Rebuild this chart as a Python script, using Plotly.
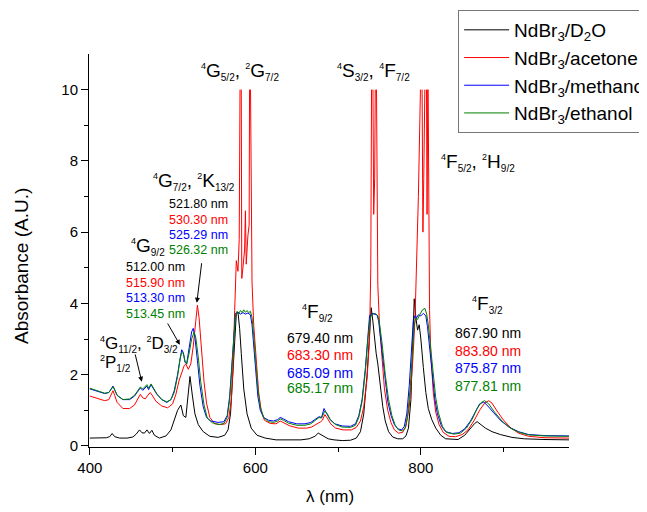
import plotly.graph_objects as go

# ---------------- data ----------------
x_d2o = [400, 410, 420, 424, 427, 430, 436, 445, 452, 456, 460, 463, 466, 469, 472, 475, 478, 484, 492, 498,
         502, 506, 510, 513, 516, 519, 521, 524, 527, 531, 537, 545, 555, 563, 567, 570, 573, 575, 577, 579,
         581, 583, 586, 590, 595, 602, 612, 625, 640, 655, 665, 672, 676, 679, 683, 688, 695, 705, 715, 722,
         727, 731, 735, 738, 740, 742, 744, 746, 748, 751, 754, 757, 761, 766, 772, 778, 782, 785, 788, 790,
         792, 794, 796, 798, 800, 803, 806, 809, 813, 818, 824, 830, 845, 853, 860, 865, 868, 872, 878, 886,
         896, 910, 925, 950, 979]
y_d2o = [0.22, 0.22, 0.23, 0.26, 0.35, 0.26, 0.22, 0.22, 0.25, 0.33, 0.45, 0.37, 0.36, 0.45, 0.35, 0.44, 0.30, 0.22, 0.28, 0.45,
         0.70, 1.00, 1.15, 0.85, 0.80, 1.60, 1.95, 1.40, 0.90, 0.60, 0.40, 0.27, 0.24, 0.30, 0.45, 0.90, 2.00, 3.00, 3.70, 3.75,
         3.30, 2.60, 1.60, 0.90, 0.50, 0.30, 0.22, 0.17, 0.17, 0.17, 0.20, 0.27, 0.36, 0.32, 0.25, 0.20, 0.17, 0.15, 0.16, 0.22,
         0.40, 0.90, 2.00, 3.20, 3.88, 3.50, 3.00, 2.60, 2.30, 1.70, 1.10, 0.70, 0.40, 0.25, 0.20, 0.20, 0.28, 0.50, 1.30, 2.80,
         4.13, 3.60, 3.25, 3.40, 3.00, 2.20, 1.50, 1.05, 0.75, 0.50, 0.30, 0.20, 0.18, 0.30, 0.50, 0.63, 0.68, 0.60, 0.50, 0.40,
         0.32, 0.24, 0.20, 0.18, 0.17]

x_acetone = [400, 410, 418, 423, 426, 428, 430, 433, 440, 448, 454, 458, 461, 464, 467, 470, 473, 476, 480, 487,
             494, 500, 504, 508, 511, 514, 516, 519, 522, 525, 528, 530, 532, 535, 538, 541, 545, 551, 558, 564,
             568, 571, 573, 575, 577, 579, 580.5, 581.5, 582, 583, 583.6, 585, 587, 588, 589, 591, 592.5, 593, 593.5, 594.2,
             595, 596, 598, 601, 604, 607, 611, 618, 625, 630, 635, 642, 652, 662, 668, 674, 679, 681, 684, 687,
             691, 697, 706, 716, 722, 727, 731, 735, 738, 739.5, 740.4, 741, 742.1, 743, 744.2, 744.9, 745.5, 746.4, 747.2, 748,
             750, 753, 756, 760, 764, 768, 773, 778, 782, 786, 790, 793, 795, 797, 799.5, 800.5, 801.5, 802.5, 803.5, 804.8,
             805.8, 806.8, 807.5, 808.3, 808.5, 808.8, 809.5, 810.5, 812, 815, 818, 822, 827, 834, 842, 850, 857, 864, 871, 877,
             882, 886, 892, 900, 909, 918, 930, 950, 979]
y_acetone = [1.40, 1.33, 1.27, 1.30, 1.45, 1.55, 1.42, 1.22, 1.05, 1.05, 1.15, 1.30, 1.45, 1.35, 1.32, 1.42, 1.50, 1.40, 1.25, 1.12,
             1.07, 1.18, 1.45, 1.85, 2.05, 2.25, 2.30, 2.15, 2.30, 2.80, 3.50, 3.95, 3.60, 2.70, 1.80, 1.20, 0.80, 0.62, 0.60, 0.62,
             0.80, 1.30, 2.20, 3.80, 5.20, 4.90, 5.80, 10.0, None, 10.0, 4.70, 5.00, 5.50, 6.60, 5.10, 5.90, 6.20, 10.0, None, 10.0,
             5.40, 4.60, 3.40, 2.30, 1.50, 1.00, 0.72, 0.63, 0.62, 0.70, 0.64, 0.56, 0.50, 0.50, 0.53, 0.60, 0.68, 0.72, 0.88, 0.78,
             0.62, 0.50, 0.45, 0.45, 0.52, 0.70, 1.10, 1.90, 3.00, 5.00, 10.0, None, 10.0, 6.50, 7.50, 10.0, None, 10.0, 5.50, 4.50,
             3.40, 2.40, 1.60, 1.00, 0.65, 0.45, 0.36, 0.38, 0.55, 1.10, 2.30, 3.60, 5.00, 7.00, 10.0, None, 10.0, 6.00, 7.50, 10.0,
             None, 10.0, 6.50, 10.0, None, 10.0, 5.00, 3.80, 2.60, 1.50, 0.95, 0.60, 0.38, 0.27, 0.26, 0.32, 0.45, 0.70, 1.00, 1.20,
             1.27, 1.20, 0.98, 0.72, 0.50, 0.36, 0.27, 0.23, 0.22]

x_methanol = [400, 410, 418, 423, 426, 428, 430, 433, 440, 448, 454, 458, 461, 464, 467, 469, 471, 474, 477, 481,
              487, 493, 498, 502, 506, 509, 511, 513, 515, 517, 520, 523, 525, 527, 530, 533, 537, 541, 546, 555,
              562, 566, 569, 572, 574, 576, 579, 582, 585, 588, 591, 594, 596, 598, 600, 603, 606, 610, 616, 622,
              627, 630, 634, 640, 650, 660, 667, 673, 677, 680, 683, 686, 690, 696, 705, 715, 721, 725, 729, 733,
              736, 738, 741, 744, 747, 749, 752, 756, 760, 764, 768, 772, 777, 780, 783, 786, 789, 791, 793, 795,
              797, 800, 803, 806, 808, 811, 814, 817, 820, 825, 830, 838, 846, 853, 860, 866, 871, 876, 881, 888,
              897, 907, 918, 930, 950, 979]
y_methanol = [1.60, 1.53, 1.47, 1.50, 1.60, 1.68, 1.58, 1.42, 1.30, 1.30, 1.40, 1.52, 1.63, 1.56, 1.62, 1.68, 1.58, 1.72, 1.60, 1.45,
              1.30, 1.22, 1.30, 1.55, 2.00, 2.50, 2.70, 2.62, 2.35, 2.30, 2.75, 3.20, 3.30, 3.05, 2.40, 1.70, 1.10, 0.80, 0.70, 0.66,
              0.68, 0.85, 1.40, 2.40, 3.30, 3.72, 3.75, 3.70, 3.74, 3.70, 3.73, 3.68, 3.40, 2.80, 2.10, 1.40, 1.00, 0.80, 0.72, 0.70,
              0.74, 0.80, 0.76, 0.68, 0.62, 0.62, 0.66, 0.76, 0.82, 0.80, 1.05, 0.92, 0.75, 0.62, 0.56, 0.55, 0.62, 0.85, 1.30, 2.20,
              3.10, 3.65, 3.72, 3.70, 3.68, 3.50, 2.90, 1.95, 1.25, 0.85, 0.60, 0.48, 0.45, 0.55, 0.90, 1.70, 2.90, 3.55, 3.65, 3.60,
              3.68, 3.65, 3.72, 3.65, 3.35, 2.60, 1.90, 1.30, 0.90, 0.55, 0.40, 0.35, 0.37, 0.48, 0.70, 0.98, 1.18, 1.23, 1.12, 0.93,
              0.70, 0.52, 0.40, 0.32, 0.29, 0.28]

x_ethanol = [400, 410, 418, 423, 426, 428, 430, 433, 440, 448, 454, 458, 461, 464, 467, 469, 471, 474, 477, 481,
             487, 493, 498, 502, 506, 509, 511, 513, 515, 517, 520, 523, 526, 528, 531, 534, 538, 542, 548, 556,
             562, 566, 569, 572, 574, 576, 578, 580, 582, 584, 586, 588, 590, 592, 594, 596, 598, 600, 603, 606,
             610, 616, 622, 627, 630, 634, 640, 650, 660, 667, 673, 677, 680, 684, 687, 691, 697, 705, 715, 721,
             725, 729, 733, 736, 739, 742, 745, 748, 750, 753, 757, 761, 765, 769, 773, 778, 781, 784, 787, 790,
             792, 794, 796, 799, 802, 805, 807, 809, 812, 815, 818, 821, 826, 831, 840, 848, 855, 862, 868, 873,
             877, 882, 889, 898, 908, 919, 930, 950, 979]
y_ethanol = [1.62, 1.55, 1.48, 1.50, 1.60, 1.66, 1.57, 1.42, 1.30, 1.32, 1.42, 1.55, 1.65, 1.60, 1.66, 1.72, 1.62, 1.74, 1.62, 1.46,
             1.30, 1.24, 1.30, 1.50, 1.95, 2.45, 2.62, 2.60, 2.38, 2.30, 2.60, 3.00, 3.20, 3.05, 2.50, 1.80, 1.15, 0.78, 0.65, 0.60,
             0.63, 0.80, 1.30, 2.30, 3.20, 3.68, 3.78, 3.72, 3.80, 3.74, 3.82, 3.75, 3.80, 3.74, 3.78, 3.60, 3.10, 2.40, 1.60, 1.10,
             0.80, 0.68, 0.66, 0.70, 0.76, 0.72, 0.64, 0.58, 0.58, 0.62, 0.72, 0.80, 0.78, 0.98, 0.90, 0.72, 0.60, 0.53, 0.52, 0.58,
             0.80, 1.25, 2.10, 3.00, 3.62, 3.70, 3.72, 3.65, 3.45, 2.90, 2.00, 1.30, 0.85, 0.58, 0.45, 0.42, 0.50, 0.85, 1.60, 2.70,
             3.40, 3.60, 3.55, 3.70, 3.82, 3.86, 3.70, 3.40, 2.70, 1.95, 1.35, 0.95, 0.55, 0.38, 0.33, 0.36, 0.50, 0.75, 1.05, 1.22,
             1.27, 1.18, 0.95, 0.70, 0.50, 0.38, 0.31, 0.28, 0.27]

series_names = ["NdBr<sub>3</sub>/D<sub>2</sub>O", "NdBr<sub>3</sub>/acetone",
                "NdBr<sub>3</sub>/methanol", "NdBr<sub>3</sub>/ethanol"]
series_colors = ["#000000", "#ff0000", "#0000ff", "#008000"]

# peak wavelength labels (nm) per band, order: D2O, acetone, methanol, ethanol
peaks_4G72 = ["521.80 nm", "530.30 nm", "525.29 nm", "526.32 nm"]
peaks_4G92 = ["512.00 nm", "515.90 nm", "513.30 nm", "513.45 nm"]
peaks_4F92 = ["679.40 nm", "683.30 nm", "685.09 nm", "685.17 nm"]
peaks_4F32 = ["867.90 nm", "883.80 nm", "875.87 nm", "877.81 nm"]

x_ticks = [400, 600, 800]
y_ticks = [0, 2, 4, 6, 8, 10]

FONT = "Liberation Sans, Arial, sans-serif"


def term(mult, letter, j):
    return ('<sup><span style="font-size:9px">%s</span></sup>%s'
            '<sub><span style="font-size:10px">%s</span></sub>' % (mult, letter, j))


fig = go.Figure()
xs = [x_d2o, x_acetone, x_methanol, x_ethanol]
ys = [y_d2o, y_acetone, y_methanol, y_ethanol]
for i in range(4):
    fig.add_trace(go.Scatter(x=xs[i], y=ys[i], mode="lines", name=series_names[i],
                             legendgroup="g%d" % i, connectgaps=False,
                             line=dict(color=series_colors[i], width=1)))

ann = []


def label(text, x, y, size, xanchor="center", color="black"):
    ann.append(dict(text=text, x=x, y=y, xref="x", yref="y", showarrow=False,
                    xanchor=xanchor, yanchor="middle",
                    font=dict(family=FONT, size=size, color=color)))


# band labels
label(term(4, "G", "5/2") + ", " + term(2, "G", "7/2"), 581, 10.5, 19)
label(term(4, "S", "3/2") + ", " + term(4, "F", "7/2"), 743, 10.5, 19)
label(term(4, "F", "5/2") + ", " + term(2, "H", "9/2"), 869, 7.95, 19)
label(term(4, "G", "7/2") + ", " + term(2, "K", "13/2"), 525.5, 7.42, 19)
label(term(4, "G", "9/2"), 447, 5.59, 19, xanchor="left")
label(term(4, "G", "11/2") + ", " + term(2, "D", "3/2"), 409.5, 2.86, 17, xanchor="left")
label(term(2, "P", "1/2"), 409.5, 2.31, 17, xanchor="left")
label(term(4, "F", "9/2"), 654, 3.74, 19, xanchor="left")
label(term(4, "F", "3/2"), 859, 3.96, 19, xanchor="left")

y_4G72 = [6.80, 6.35, 5.93, 5.51]
y_4G92 = [5.03, 4.58, 4.16, 3.71]
y_4F92 = [3.03, 2.56, 2.05, 1.63]
y_4F32 = [3.17, 2.67, 2.19, 1.69]
for i in range(4):
    label(peaks_4G72[i], 531.7, y_4G72[i], 12.5, color=series_colors[i])
    label(peaks_4G92[i], 479.8, y_4G92[i], 12.5, color=series_colors[i])
    label(peaks_4F92[i], 678, y_4F92[i], 14, color=series_colors[i])
    label(peaks_4F32[i], 881.6, y_4F32[i], 14, color=series_colors[i])


def arrow(x0, y0, x1, y1):
    ann.append(dict(text="", x=x1, y=y1, ax=x0, ay=y0, xref="x", yref="y",
                    axref="x", ayref="y", showarrow=True, arrowhead=2,
                    arrowsize=1, arrowwidth=1, arrowcolor="black", standoff=0))


arrow(535.3, 5.17, 529.3, 4.02)
arrow(493.0, 3.48, 508.8, 2.84)
arrow(454.4, 2.61, 462.8, 1.80)

# axis titles (placed as in the reference)
ann.append(dict(text="Absorbance (A.U.)", x=-0.1396, y=0.4606, xref="paper", yref="paper",
                textangle=-90, showarrow=False, xanchor="center", yanchor="middle",
                font=dict(family=FONT, size=19, color="black")))
ann.append(dict(text="λ (nm)", x=0.502, y=-0.127, xref="paper", yref="paper",
                showarrow=False, xanchor="center", yanchor="middle",
                font=dict(family=FONT, size=17, color="black")))

# the page body adds an 8 px margin, so the figure is sized to fit the 647x512 window
fig.update_layout(
    width=639, height=504,
    margin=dict(l=81, r=78, t=46, b=65, autoexpand=False),
    paper_bgcolor="white", plot_bgcolor="white",
    font=dict(family=FONT, size=15, color="black"),
    showlegend=True,
    legend=dict(x=0.769, y=1.112, xanchor="left", yanchor="top",
                bgcolor="white", bordercolor="#777777", borderwidth=1,
                font=dict(family=FONT, size=19, color="black"),
                tracegroupgap=0, itemwidth=45),
    annotations=ann,
    xaxis=dict(range=[399, 979], tickmode="array", tickvals=x_ticks,
               ticks="outside", ticklen=7, tickwidth=1, tickcolor="black",
               minor=dict(tickmode="array", tickvals=[500, 700, 900], ticks="outside",
                          ticklen=4, tickwidth=1, tickcolor="black"),
               showline=True, linecolor="black", linewidth=1,
               showgrid=False, zeroline=False,
               tickfont=dict(family=FONT, size=15)),
    yaxis=dict(range=[-0.03, 11.0], tickmode="array", tickvals=y_ticks,
               ticks="outside", ticklen=7, tickwidth=1, tickcolor="black",
               minor=dict(tickmode="array", tickvals=[1, 3, 5, 7, 9], ticks="outside",
                          ticklen=4, tickwidth=1, tickcolor="black"),
               showline=True, linecolor="black", linewidth=1,
               showgrid=False, zeroline=False,
               tickfont=dict(family=FONT, size=15)),
)

fig.write_html("out.html")
